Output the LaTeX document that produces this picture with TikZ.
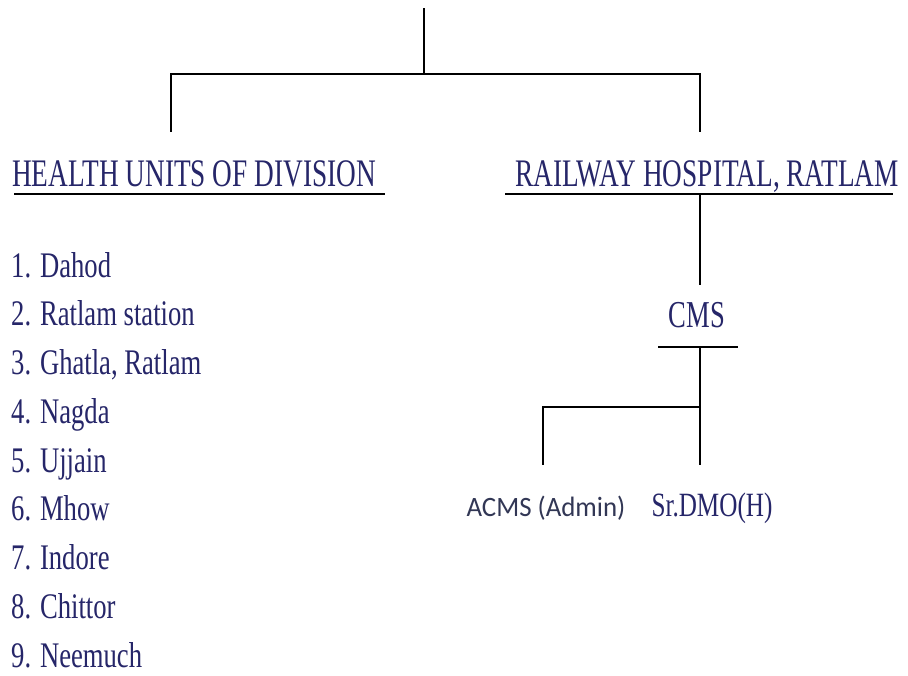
\documentclass[tikz,border=0pt]{standalone}
\usepackage{fontspec}
\setmainfont{Liberation Serif}[FakeStretch=0.70]
\newfontfamily\listfont{Liberation Serif}[FakeStretch=0.74]
\newfontfamily\acmsfont{Carlito}[FakeStretch=0.96]
\definecolor{txt}{RGB}{38,38,105}
\definecolor{acmscol}{RGB}{50,55,85}
\tikzset{
  conn/.style={draw=black, line width=2.2pt},
  head/.style={text=txt, inner sep=0pt, anchor=base, font=\fontsize{39}{44}\selectfont},
  item/.style={text=txt, inner sep=0pt, anchor=base west, font=\listfont\fontsize{36}{40}\selectfont},
}
\begin{document}
\begin{tikzpicture}[x=1pt,y=-1pt]
\useasboundingbox[fill=white] (0,0) rectangle (908,675);
% top structure
\coordinate (top) at (424,8);
\coordinate (jtop) at (424,74);
\coordinate (jl) at (171,74);
\coordinate (jr) at (700,74);
\coordinate (hutop) at (171,132);
\coordinate (rhtop) at (700,132);
\draw[conn] (top) -- (jtop);
\draw[conn, line cap=rect] (jl) -- (jr);
\draw[conn] (jl) -- (hutop);
\draw[conn] (jr) -- (rhtop);
% headers
\node[head] (hu) at (194,186) {HEALTH UNITS OF DIVISION};
\node[head] (rh) at (707,186) {RAILWAY HOSPITAL, RATLAM};
\coordinate (hul1) at (14,194);
\coordinate (hul2) at (385,194);
\coordinate (rhl1) at (505,194);
\coordinate (rhl2) at (893,194);
\draw[conn] (hul1) -- (hul2);
\draw[conn] (rhl1) -- (rhl2);
% CMS
\coordinate (rhdown) at (700,194);
\coordinate (cmsup) at (700,285);
\draw[conn] (rhdown) -- (cmsup);
\node[head, font=\fontsize{38}{42}\selectfont] (cms) at (697,327) {CMS};
\coordinate (cmsl1) at (658,347);
\coordinate (cmsl2) at (738,347);
\coordinate (cmsmid) at (700,347);
\draw[conn] (cmsl1) -- (cmsl2);
\coordinate (jb) at (700,407);
\coordinate (jbl) at (543,407);
\coordinate (acmsup) at (543,465);
\coordinate (dmoup) at (700,465);
\draw[conn] (cmsmid) -- (dmoup);
\draw[conn, line cap=rect] (jbl) -- (jb);
\draw[conn] (jbl) -- (acmsup);
\node[inner sep=0pt, anchor=base, text=acmscol, font=\acmsfont\fontsize{28}{32}\selectfont] (acms) at (546,516) {ACMS (Admin)};
\node[inner sep=0pt, anchor=base, text=txt, font=\listfont\fontsize{34}{38}\selectfont] (dmo) at (712,516) {Sr.DMO(H)};
% list
\node[item] (i1) at (11,277) {1. Dahod};
\node[item] (i2) at (11,325.75) {2. Ratlam station};
\node[item] (i3) at (11,374.5) {3. Ghatla, Ratlam};
\node[item] (i4) at (11,423.25) {4. Nagda};
\node[item] (i5) at (11,472) {5. Ujjain};
\node[item] (i6) at (11,520.75) {6. Mhow};
\node[item] (i7) at (11,569.5) {7. Indore};
\node[item] (i8) at (11,618.25) {8. Chittor};
\node[item] (i9) at (11,667) {9. Neemuch};
\end{tikzpicture}
\end{document}
